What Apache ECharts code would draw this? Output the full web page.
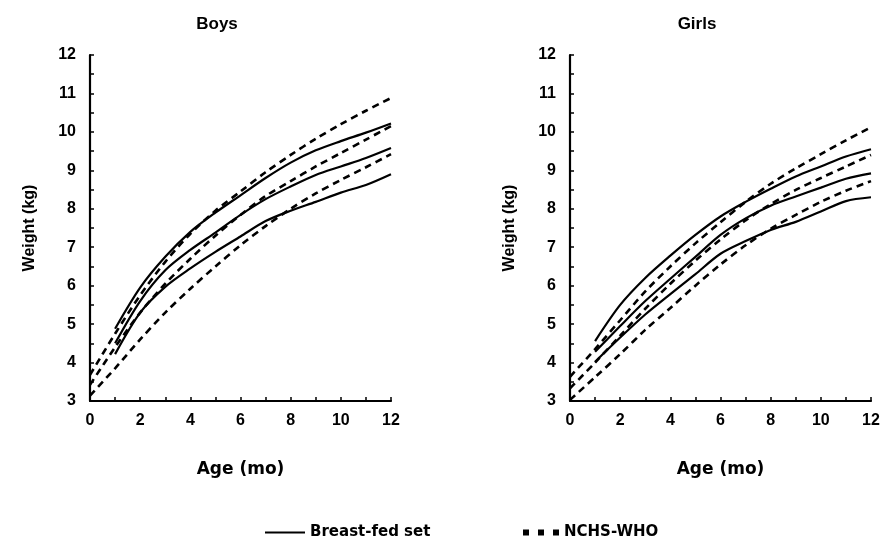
<!DOCTYPE html>
<html><head><meta charset="utf-8">
<script src="https://cdn.jsdelivr.net/npm/echarts@6/dist/echarts.min.js"></script>
<style>html,body{margin:0;padding:0;background:#fff}#c{width:883px;height:542px}</style>
</head><body><div id="c"></div>
<script>
// Ages (months)
const monthsNCHS = [0,1,2,3,4,5,6,7,8,9,10,11,12];
const monthsBF = [1,2,3,4,5,6,7,8,9,10,11,12];
const xTicks = [0,2,4,6,8,10,12];
const yTicks = [3,4,5,6,7,8,9,10,11,12];

// Boys – breast-fed set (solid)
const boysBFUpper  = [4.88,5.95,6.75,7.40,7.90,8.35,8.80,9.20,9.52,9.76,9.98,10.22];
const boysBFMiddle = [4.50,5.60,6.40,6.93,7.38,7.84,8.25,8.58,8.88,9.10,9.32,9.58];
const boysBFLower  = [4.22,5.30,5.97,6.45,6.88,7.28,7.68,7.95,8.18,8.42,8.62,8.90];
// Boys – NCHS-WHO (dashed)
const boysNCHSUpper  = [3.68,4.75,5.75,6.62,7.35,7.95,8.45,8.95,9.40,9.82,10.20,10.55,10.88];
const boysNCHSMiddle = [3.42,4.40,5.30,6.05,6.70,7.30,7.84,8.33,8.72,9.10,9.45,9.80,10.15];
const boysNCHSLower  = [3.14,3.85,4.60,5.30,5.92,6.50,7.05,7.55,8.00,8.40,8.75,9.08,9.42];

// Girls – breast-fed set (solid)
const girlsBFUpper  = [4.56,5.50,6.20,6.78,7.32,7.80,8.18,8.52,8.84,9.10,9.36,9.55];
const girlsBFMiddle = [4.28,4.95,5.60,6.18,6.75,7.32,7.75,8.08,8.32,8.55,8.78,8.92];
const girlsBFLower  = [4.02,4.65,5.25,5.78,6.30,6.83,7.16,7.45,7.66,7.93,8.20,8.30];
// Girls – NCHS-WHO (dashed)
const girlsNCHSUpper  = [3.63,4.35,5.10,5.85,6.50,7.10,7.65,8.18,8.65,9.05,9.42,9.78,10.12];
const girlsNCHSMiddle = [3.33,4.00,4.70,5.40,6.05,6.65,7.20,7.70,8.12,8.49,8.80,9.10,9.40];
const girlsNCHSLower  = [3.03,3.62,4.22,4.85,5.42,6.00,6.55,7.05,7.48,7.84,8.18,8.47,8.72];

const FONT = 'Liberation Sans, Arial, Helvetica, sans-serif';
const WIDE = 'DejaVu Sans, Verdana, sans-serif';
const zip = (xs, ys) => xs.map((x, i) => [x, ys[i]]);

function solid(xi, vals) {
  return { name: 'Breast-fed set', type: 'line', xAxisIndex: xi, yAxisIndex: xi,
    data: zip(monthsBF, vals), showSymbol: false, smooth: 0.3, color: '#000',
    lineStyle: { color: '#000', width: 2.2, type: 'solid' }, silent: true };
}
function dashed(xi, vals) {
  return { name: 'NCHS-WHO', type: 'line', xAxisIndex: xi, yAxisIndex: xi,
    data: zip(monthsNCHS, vals), showSymbol: false, smooth: 0.3, color: '#000',
    lineStyle: { color: '#000', width: 2.6, type: [7, 5] }, silent: true };
}

function xAxis(gi) {
  return { type: 'value', gridIndex: gi, min: 0, max: 12, interval: 1,
    name: 'Age (mo)', nameLocation: 'middle', nameGap: 60,
    nameTextStyle: { fontFamily: WIDE, fontWeight: 'bold', fontSize: 17, color: '#000' },
    axisLine: { show: true, onZero: false, lineStyle: { color: '#000', width: 2.2 } },
    axisTick: { show: true, inside: true, length: 4, lineStyle: { color: '#000', width: 1.5 } },
    splitLine: { show: false },
    axisLabel: { margin: 12, fontFamily: FONT, fontWeight: 'bold', fontSize: 16, color: '#000',
      formatter: v => (xTicks.indexOf(v) >= 0 ? String(v) : '') } };
}
function yAxis(gi) {
  return { type: 'value', gridIndex: gi, min: 3, max: 12, interval: 0.5,
    name: 'Weight (kg)', nameLocation: 'middle', nameGap: 52, nameRotate: 90,
    nameTextStyle: { fontFamily: FONT, fontWeight: 'bold', fontSize: 16, color: '#000' },
    axisLine: { show: true, onZero: false, lineStyle: { color: '#000', width: 2.2 } },
    axisTick: { show: true, inside: true, length: 4, lineStyle: { color: '#000', width: 1.5 } },
    splitLine: { show: false },
    axisLabel: { margin: 14, fontFamily: FONT, fontWeight: 'bold', fontSize: 16, color: '#000',
      formatter: v => (yTicks.indexOf(v) >= 0 ? String(v) : '') } };
}

const chart = echarts.init(document.getElementById('c'), null, { renderer: 'canvas' });
chart.setOption({
  animation: false,
  backgroundColor: '#fff',
  title: [
    { text: 'Boys', left: 212, top: 11, textAlign: 'center',
      textStyle: { fontFamily: FONT, fontWeight: 'bold', fontSize: 17, color: '#000' } },
    { text: 'Girls', left: 692, top: 11, textAlign: 'center',
      textStyle: { fontFamily: FONT, fontWeight: 'bold', fontSize: 17, color: '#000' } }
  ],
  legend: [
    { data: [{ name: 'Breast-fed set', icon: 'path://M0,0 L40,0 L40,2 L0,2 Z' }],
      left: 265, top: 525, padding: 0, itemWidth: 40, itemHeight: 2, selectedMode: false,
      itemStyle: { color: '#000' },
      textStyle: { fontFamily: WIDE, fontWeight: 'bold', fontSize: 15, color: '#000' } },
    { data: [{ name: 'NCHS-WHO', icon: 'path://M0,0 h6 v6 h-6 Z M15,0 h6 v6 h-6 Z M30,0 h6 v6 h-6 Z' }],
      left: 523, top: 525, padding: 0, itemWidth: 36, itemHeight: 6, selectedMode: false,
      itemStyle: { color: '#000' },
      textStyle: { fontFamily: WIDE, fontWeight: 'bold', fontSize: 15, color: '#000' } }
  ],
  grid: [
    { left: 90, top: 55, width: 301, height: 346, containLabel: false },
    { left: 570, top: 55, width: 301, height: 346, containLabel: false }
  ],
  xAxis: [xAxis(0), xAxis(1)],
  yAxis: [yAxis(0), yAxis(1)],
  series: [
    solid(0, boysBFUpper), solid(0, boysBFMiddle), solid(0, boysBFLower),
    dashed(0, boysNCHSUpper), dashed(0, boysNCHSMiddle), dashed(0, boysNCHSLower),
    solid(1, girlsBFUpper), solid(1, girlsBFMiddle), solid(1, girlsBFLower),
    dashed(1, girlsNCHSUpper), dashed(1, girlsNCHSMiddle), dashed(1, girlsNCHSLower)
  ]
});
</script></body></html>
